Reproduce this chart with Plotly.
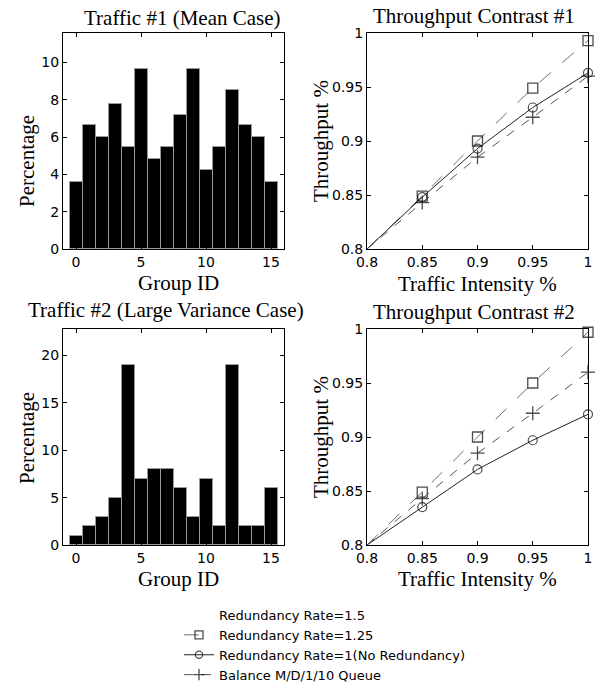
import plotly.graph_objects as go

# ---------------- data ----------------
group_ids = list(range(16))
traffic1_pct = [3.6, 6.65, 6.0, 7.8, 5.45, 9.65, 4.8, 5.45, 7.2, 9.65, 4.25, 5.45, 8.5, 6.65, 6.0, 3.6]
traffic2_pct = [1, 2, 3, 5, 19, 7, 8, 8, 6, 3, 7, 2, 19, 2, 2, 6]

intensity = [0.8, 0.85, 0.9, 0.95, 1.0]
c1_rate125 = [0.8, 0.849, 0.900, 0.949, 0.993]
c1_rate1 = [0.8, 0.848, 0.893, 0.931, 0.963]
c1_balance = [0.8, 0.843, 0.885, 0.922, 0.960]

c2_rate125 = [0.8, 0.849, 0.900, 0.950, 0.997]
c2_rate1 = [0.8, 0.835, 0.870, 0.897, 0.921]
c2_balance = [0.8, 0.843, 0.885, 0.922, 0.960]

hist_xticks = [0, 5, 10, 15]
tp_ticks = [0.8, 0.85, 0.9, 0.95, 1.0]
tp_ticklabels = ["0.8", "0.85", "0.9", "0.95", "1"]

legend_names = ["Redundancy Rate=1.5", "Redundancy Rate=1.25",
                "Redundancy Rate=1(No Redundancy)", "Balance M/D/1/10 Queue"]

# ---------------- layout helpers ----------------
W, H = 598, 687
def px(x):
    return x / W
def py(y):
    return 1 - y / H

SERIF = "Liberation Serif, Times New Roman, serif"
SANS = "DejaVu Sans, sans-serif"

fig = go.Figure()

# histograms
for data, xa, ya in [(traffic1_pct, "x", "y"), (traffic2_pct, "x3", "y3")]:
    fig.add_trace(go.Bar(x=group_ids, y=data, xaxis=xa, yaxis=ya, width=1.0,
                         marker=dict(color="black", line=dict(color="#9a9a9a", width=1)),
                         showlegend=False))

def add_lines(r125, r1, bal, xa, ya, show):
    # rate 1.5 series: legend entry only (no visible mark in the reference)
    if show:
        fig.add_trace(go.Scatter(x=[None], y=[None], mode="lines", name=legend_names[0],
                                 line=dict(color="rgba(0,0,0,0)", width=1),
                                 xaxis=xa, yaxis=ya, showlegend=True))
    fig.add_trace(go.Scatter(x=intensity, y=r125, mode="lines+markers", name=legend_names[1],
                             line=dict(color="#6e6e6e", width=1, dash="longdash"),
                             marker=dict(symbol="square-open", size=[0, 10, 10, 10, 10],
                                         color="black", line=dict(width=1.3)),
                             cliponaxis=False, xaxis=xa, yaxis=ya, showlegend=show))
    fig.add_trace(go.Scatter(x=intensity, y=r1, mode="lines+markers", name=legend_names[2],
                             line=dict(color="#222222", width=1),
                             marker=dict(symbol="circle-open", size=[0, 9, 9, 9, 9],
                                         color="black", line=dict(width=1.2)),
                             cliponaxis=False, xaxis=xa, yaxis=ya, showlegend=show))
    fig.add_trace(go.Scatter(x=intensity, y=bal, mode="lines+markers", name=legend_names[3],
                             line=dict(color="#555555", width=1, dash="dash"),
                             marker=dict(symbol="cross-thin-open", size=[0, 10, 10, 10, 10],
                                         color="black", line=dict(width=1.3, color="black")),
                             cliponaxis=False, xaxis=xa, yaxis=ya, showlegend=show))

add_lines(c1_rate125, c1_rate1, c1_balance, "x2", "y2", True)
add_lines(c2_rate125, c2_rate1, c2_balance, "x4", "y4", False)

axis_common = dict(showline=True, linecolor="black", linewidth=1, mirror="ticks",
                   ticks="inside", ticklen=4, tickcolor="black", showgrid=False,
                   zeroline=False, automargin=False,
                   tickfont=dict(family=SANS, size=14, color="black"))

L1, R1 = px(63), px(284)
L2, R2 = px(367), px(588)
T1, B1 = py(33), py(249)
T2, B2 = py(329), py(545)

fig.update_layout(
    width=W, height=H, margin=dict(l=0, r=0, t=0, b=0, autoexpand=False),
    paper_bgcolor="white", plot_bgcolor="white", bargap=0,
    xaxis=dict(domain=[L1, R1], range=[-1, 16], tickvals=hist_xticks, anchor="y", **axis_common),
    yaxis=dict(domain=[B1, T1], range=[0, 11.58], dtick=2, anchor="x", **axis_common),
    xaxis2=dict(domain=[L2, R2], range=[0.8, 1.0], tickvals=tp_ticks, ticktext=tp_ticklabels,
                anchor="y2", **axis_common),
    yaxis2=dict(domain=[B1, T1], range=[0.8, 1.0], tickvals=tp_ticks, ticktext=tp_ticklabels,
                anchor="x2", **axis_common),
    xaxis3=dict(domain=[L1, R1], range=[-1, 16], tickvals=hist_xticks, anchor="y3", **axis_common),
    yaxis3=dict(domain=[B2, T2], range=[0, 22.8], dtick=5, anchor="x3", **axis_common),
    xaxis4=dict(domain=[L2, R2], range=[0.8, 1.0], tickvals=tp_ticks, ticktext=tp_ticklabels,
                anchor="y4", **axis_common),
    yaxis4=dict(domain=[B2, T2], range=[0.8, 1.0], tickvals=tp_ticks, ticktext=tp_ticklabels,
                anchor="x4", **axis_common),
    legend=dict(x=px(179), y=py(600), xanchor="left", yanchor="top",
                font=dict(family=SANS, size=13, color="black"),
                bgcolor="rgba(0,0,0,0)", tracegroupgap=0),
)

def note(text, x, y, angle=0, size=21):
    fig.add_annotation(text=text, x=px(x), y=py(y), xref="paper", yref="paper",
                       showarrow=False, textangle=angle, xanchor="center", yanchor="middle",
                       font=dict(family=SERIF, size=size, color="black"))

note("Traffic #1 (Mean Case)", 182, 18)
note("Throughput Contrast #1", 474, 16)
note("Traffic #2 (Large Variance Case)", 166, 310)
note("Throughput Contrast #2", 474, 312)
note("Percentage", 27, 161, -90)
note("Percentage", 27, 438, -90)
note("Throughput %", 321, 141, -90)
note("Throughput %", 321, 437, -90)
note("Group ID", 178, 283)
note("Group ID", 178, 579)
note("Traffic Intensity %", 477, 284)
note("Traffic Intensity %", 477, 579)

fig.write_html("out.html")
